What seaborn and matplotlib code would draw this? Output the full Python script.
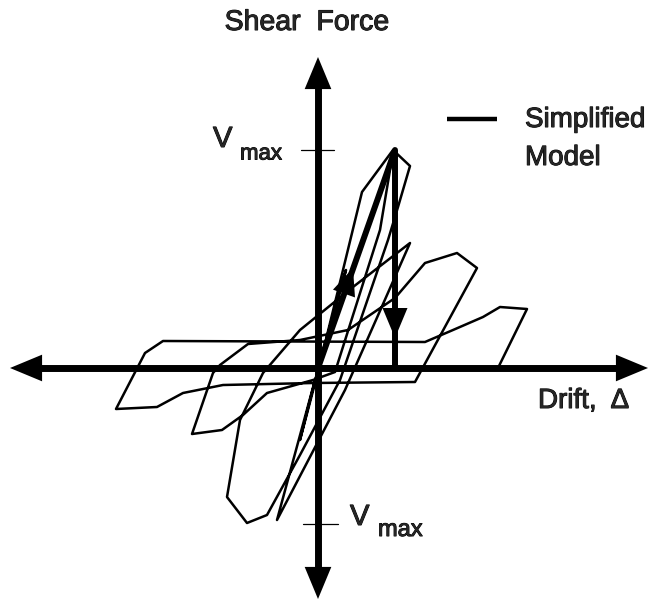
import numpy as np
import pandas as pd
import matplotlib
matplotlib.use("Agg")
import matplotlib.pyplot as plt
import matplotlib.patheffects as pe
import seaborn as sns

# Measured shear force vs. drift history (one continuous cyclic test record)
drift = [0, 28, -6, -18, 0, 25, 44, 75, 92, 80, 70, 22, -18, -51, -71, -91,
         -78, -55, -18, 35, 92, 27, -41, -3, 75, 62, 17, -5, -51, -75, -96,
         -126, -105, -98, -70, -18, 30, 77, 107, 139, 159, 97, -5, -95, -135,
         -161, -202, -173, -155, 107, 135, 165, 182, 209, 180]
shear = [0, 98, -24, -72, -4, 98, 176, 218, 202, 161, 128, -12, -87, -147,
         -155, -129, -52, -5, 38, 81, 125, -22, -152, -12, 216, 138, -4, -12,
         -25, -47, -62, -66, -5, 3, 24, 28, 38, 70, 105, 115, 100, -14, -15,
         -17, -25, -39, -41, 15, 27, 26, 38, 51, 61, 59, 0]

# Simplified model: elastic rise to Vmax, sudden drop, return along the axis
model_drift = [0, 77, 77, 0]
model_shear = [0, 218, 0, 0]

vmax_pos = 218
vmax_neg = -156

sns.set_style("white")
plt.rcParams["font.family"] = ["Liberation Sans", "DejaVu Sans"]

fig = plt.figure(figsize=(6.54, 6.01), dpi=100)
ax = fig.add_axes([0, 0, 1, 1])
ax.set_xlim(-318, 336)
ax.set_ylim(-233, 368)
ax.axis("off")

hist = pd.DataFrame({"step": np.arange(len(drift)), "drift": drift, "shear": shear})
sns.lineplot(data=hist, x="drift", y="shear", sort=False, estimator=None,
             color="black", lw=1.8, ax=ax)

model = pd.DataFrame({"drift": model_drift, "shear": model_shear})
sns.lineplot(data=model, x="drift", y="shear", sort=False, estimator=None,
             color="black", lw=4.3, ax=ax, solid_joinstyle="round")


def head(tip, direction, length, width, ms=30):
    d = np.asarray(direction, float)
    d /= np.hypot(*d)
    base = np.asarray(tip) - d * 2.0
    ax.annotate("", xy=tip, xytext=tuple(base),
                arrowprops=dict(arrowstyle=f"-|>,head_length={length},head_width={width}",
                                mutation_scale=ms, fc="black", ec="black", lw=0,
                                shrinkA=0, shrinkB=0))


# Coordinate axes with arrowheads at both ends
x_lo, x_hi, y_lo, y_hi = -308, 330, -231, 311
alen = 28
ax.plot([x_lo + alen, x_hi - alen], [0, 0], color="black", lw=5, solid_capstyle="butt")
ax.plot([0, 0], [y_lo + alen, y_hi - alen], color="black", lw=5, solid_capstyle="butt")
head((x_lo, 0), (-1, 0), 0.77, 0.32)
head((x_hi, 0), (1, 0), 0.77, 0.32)
head((0, y_hi), (0, 1), 0.77, 0.32)
head((0, y_lo), (0, -1), 0.77, 0.32)

# Direction arrows on the simplified model
head((35, 100), (model_drift[1], model_shear[1]), 0.65, 0.28)
head((model_drift[2], 30), (0, -1), 0.72, 0.3)

# Vmax ticks on the force axis
ax.plot([-17, 16], [vmax_pos, vmax_pos], color="black", lw=0.9)
ax.plot([-15, 20], [vmax_neg, vmax_neg], color="black", lw=0.9)

fs = 20
stroke = [pe.withStroke(linewidth=0.7, foreground="black")]
texts = [
    ax.text(-11, 345, "Shear  Force", fontsize=fs + 0.5, ha="center", va="center"),
    ax.text(220, -33, "Drift,  \u0394", fontsize=fs, ha="left", va="center"),
    ax.text(-105, vmax_pos + 3, "V", fontsize=fs + 1, ha="left", va="baseline"),
    ax.text(-78, vmax_pos - 4, "max", fontsize=16, ha="left", va="center"),
    ax.text(32, vmax_neg - 1, "V", fontsize=fs + 1, ha="left", va="baseline"),
    ax.text(60, vmax_neg - 6, "max", fontsize=17, ha="left", va="center"),
    ax.text(207, 248, "Simplified", fontsize=fs, ha="left", va="center"),
    ax.text(207, 210, "Model", fontsize=fs, ha="left", va="center"),
]
for t in texts:
    t.set_path_effects(stroke)

# Legend entry for the simplified model
ax.plot([129, 179], [249, 249], color="black", lw=3.2, solid_capstyle="butt")

fig.savefig("out.png", dpi=100)
